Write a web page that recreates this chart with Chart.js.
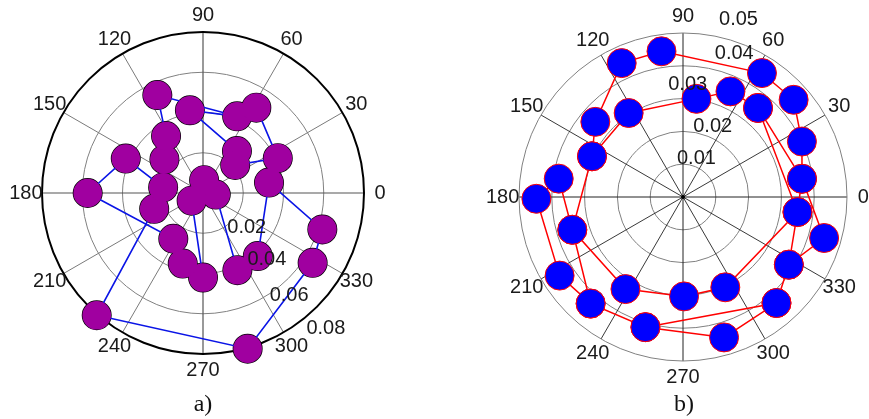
<!DOCTYPE html>
<html>
<head>
<meta charset="utf-8">
<script src="https://cdn.jsdelivr.net/npm/chart.js@4.4.1/dist/chart.umd.min.js"></script>
<style>
  html, body { margin: 0; padding: 0; background: #ffffff; }
  #wrap { position: relative; width: 869px; height: 419px; overflow: hidden; background: #fff; }
  canvas { position: absolute; top: 0; }
  .cap { position: absolute; top: 390px; font-family: "Liberation Serif", "Times New Roman", serif; font-size: 24px; line-height: 26px; color: #111; transform: translateX(-50%); }
</style>
</head>
<body>
<div id="wrap">
  <canvas id="ca" width="434" height="419" style="left:0;width:434px;height:419px"></canvas>
  <canvas id="cb" width="435" height="419" style="left:434px;width:435px;height:419px"></canvas>
  <div class="cap" style="left:203px">a)</div>
  <div class="cap" style="left:684px">b)</div>
</div>
<script>
// ---------- data (angles in degrees, radii in data units) ----------
const angleTicks = [0, 30, 60, 90, 120, 150, 180, 210, 240, 270, 300, 330];

// panel a)
const ringTicksA = [0.02, 0.04, 0.06, 0.08];
const thetaA = [198, 229, 286, 327.5, 343, 9, 311, 294, 353, 85, 214, 270, 254, 237, 180, 156, 172, 139, 123, 115, 66, 99, 51, 41, 25, 58];
const rhoA   = [0.0255, 0.0805, 0.0805, 0.0646, 0.062, 0.0332, 0.0415, 0.042, 0.0064, 0.0064, 0.0068, 0.042, 0.0365, 0.0271, 0.0573, 0.042, 0.020, 0.0254, 0.0337, 0.0537, 0.0417, 0.0416, 0.0268, 0.0212, 0.041, 0.050];

// panel b)
const ringTicksB = [0.01, 0.02, 0.03, 0.04, 0.05];
const thetaB = [155.9, 139.4, 114.6, 98.4, 57.5, 41.3, 25, 8.7, 343.8, 327.4, 311.4, 286.3, 253.9, 229.1, 212.5, 180.7, 171.6, 196.5, 238, 270.6, 295.1, 352.5, 49.9, 65.8, 82.2, 122.9,
                155.9, 196.5, 229.1, 253.9, 311.4, 327.4, 352.5, 8.7, 49.9];
const rhoB   = [0.0304, 0.0352, 0.0449, 0.0449, 0.0448, 0.0449, 0.0400, 0.0367, 0.0448, 0.0383, 0.0431, 0.0446, 0.0413, 0.0430, 0.0446, 0.0447, 0.0383, 0.0352, 0.0331, 0.0303, 0.0304, 0.0352, 0.0355, 0.0353, 0.0302, 0.0305,
                0.0304, 0.0352, 0.0430, 0.0413, 0.0431, 0.0383, 0.0352, 0.0367, 0.0355];

// ---------- layout (positions of radial tick labels: [angle deg, radius in data units]) ----------
const radialLabelPosA = [[-38.5, 0.0278], [-46, 0.0457], [-50, 0.0666], [-47.7, 0.0907]];
const radialLabelPosB = [[71, 0.01256], [67.1, 0.02326], [87.6, 0.03427], [70.4, 0.0466], [72.6, 0.0566]];

function toXY(theta, rho) {
  return theta.map((t, i) => ({
    x: rho[i] * Math.cos(t * Math.PI / 180),
    y: rho[i] * Math.sin(t * Math.PI / 180)
  }));
}

const polarGrid = {
  id: 'polarGrid',
  beforeDatasetsDraw(chart, args, o) {
    const { ctx, scales: { x, y } } = chart;
    const cx = x.getPixelForValue(0), cy = y.getPixelForValue(0);
    const px = v => x.getPixelForValue(v) - cx;
    const R = px(o.rmax);
    ctx.save();
    ctx.strokeStyle = o.ringColor; ctx.lineWidth = o.ringWidth;
    o.rings.forEach(r => {
      if (Math.abs(r - o.rmax) < 1e-9) return;
      ctx.beginPath(); ctx.arc(cx, cy, px(r), 0, Math.PI * 2); ctx.stroke();
    });
    angleTicks.forEach(a => {
      if (a >= 180) return;
      const rad = a * Math.PI / 180;
      const main = (a % 90 === 0);
      ctx.strokeStyle = main ? o.axisColor : o.spokeColor;
      ctx.lineWidth = main ? o.axisWidth : o.spokeWidth;
      ctx.beginPath();
      ctx.moveTo(cx - R * Math.cos(rad), cy + R * Math.sin(rad));
      ctx.lineTo(cx + R * Math.cos(rad), cy - R * Math.sin(rad));
      ctx.stroke();
    });
    ctx.strokeStyle = o.outerColor; ctx.lineWidth = o.outerWidth;
    ctx.beginPath(); ctx.arc(cx, cy, R, 0, Math.PI * 2); ctx.stroke();
    if (o.centerDot) {
      ctx.fillStyle = '#000';
      ctx.beginPath(); ctx.arc(cx, cy, 2, 0, Math.PI * 2); ctx.fill();
    }
    ctx.restore();
  },
  afterDatasetsDraw(chart, args, o) {
    const { ctx, scales: { x, y } } = chart;
    const cx = x.getPixelForValue(0), cy = y.getPixelForValue(0);
    const px = v => x.getPixelForValue(v) - cx;
    const R = px(o.rmax);
    ctx.save();
    ctx.fillStyle = '#1a1a1a';
    ctx.font = '20px "Liberation Sans", Arial, sans-serif';
    ctx.textAlign = 'center'; ctx.textBaseline = 'middle';
    angleTicks.forEach(a => {
      const rad = a * Math.PI / 180;
      ctx.fillText(String(a), cx + 1.1 * R * Math.cos(rad), cy - 1.1 * R * Math.sin(rad));
    });
    o.rings.forEach((r, i) => {
      const p = o.labelPos[i];
      const rad = p[0] * Math.PI / 180;
      ctx.fillText(String(r), cx + px(p[1]) * Math.cos(rad), cy - px(p[1]) * Math.sin(rad));
    });
    ctx.restore();
  }
};

function makeChart(id, datasets, rmax, pad, gridOpts) {
  return new Chart(document.getElementById(id), {
    type: 'scatter',
    data: { datasets },
    options: {
      responsive: false,
      animation: false,
      devicePixelRatio: 1,
      events: [],
      layout: { padding: pad },
      scales: {
        x: { type: 'linear', min: -rmax, max: rmax, display: false },
        y: { type: 'linear', min: -rmax, max: rmax, display: false }
      },
      plugins: {
        legend: { display: false },
        tooltip: { enabled: false },
        polarGrid: Object.assign({ rmax }, gridOpts)
      }
    },
    plugins: [polarGrid]
  });
}

const ptsA = toXY(thetaA, rhoA);
makeChart('ca', [
  {
    data: ptsA, showLine: true, borderColor: '#0a14e6', borderWidth: 1.6,
    pointRadius: 14.3, pointBackgroundColor: '#a000a0', pointBorderWidth: 0,
    pointBorderColor: 'rgba(0,0,0,0)', clip: false
  },
  {
    data: ptsA, showLine: false, pointRadius: 14.3,
    pointBackgroundColor: 'rgba(0,0,0,0)', pointBorderColor: '#000000',
    pointBorderWidth: 1.4, clip: false
  }
], 0.08, { left: 42, top: 32, right: 70, bottom: 65 }, {
  rings: ringTicksA, labelPos: radialLabelPosA,
  ringColor: '#808080', ringWidth: 1,
  spokeColor: '#7a7a7a', spokeWidth: 1,
  axisColor: '#555555', axisWidth: 1.2,
  outerColor: '#000000', outerWidth: 2,
  centerDot: false
});

const ptsB = toXY(thetaB, rhoB);
makeChart('cb', [
  {
    data: ptsB, showLine: true, borderColor: '#ff0000', borderWidth: 1.5,
    pointRadius: 14.5, pointBackgroundColor: '#0000ff', pointBorderColor: '#ff0000',
    pointBorderWidth: 1, clip: false
  }
], 0.05, { left: 85, top: 33, right: 22, bottom: 58 }, {
  rings: ringTicksB, labelPos: radialLabelPosB,
  ringColor: '#808080', ringWidth: 1,
  spokeColor: '#222222', spokeWidth: 0.9,
  axisColor: '#222222', axisWidth: 1,
  outerColor: '#808080', outerWidth: 1,
  centerDot: true
});
</script>
</body>
</html>
